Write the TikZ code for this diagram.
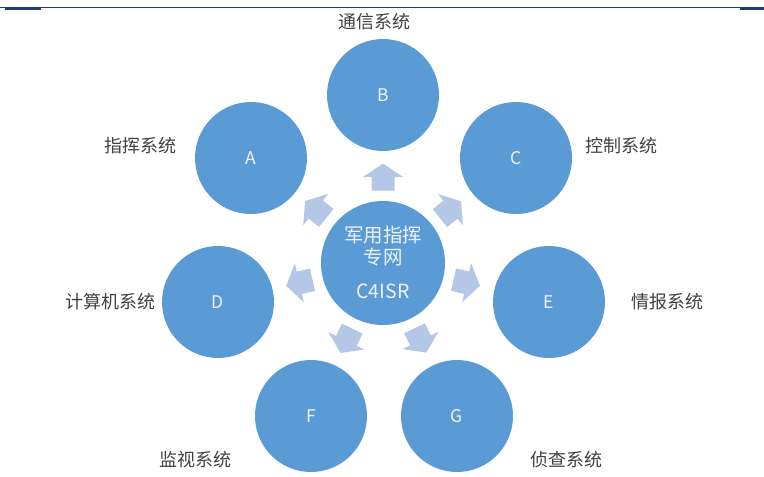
\documentclass[tikz,border=0pt]{standalone}
\usepackage{fontspec}
\setmainfont{Noto Sans CJK SC}
\usetikzlibrary{calc}
\definecolor{circ}{HTML}{5B9BD5}
\definecolor{arr}{HTML}{B4C7E7}
\definecolor{lbl}{HTML}{404040}
\definecolor{rule}{HTML}{1F3A78}
\definecolor{ltr}{HTML}{EEF3FA}
\tikzset{
  outer/.style={circle,fill=circ,minimum size=112pt,inner sep=0pt,text=ltr,font=\fontsize{17.5}{17.5}\selectfont},
  hub/.style={circle,fill=circ,minimum size=124pt,inner sep=0pt},
  lab/.style={text=lbl,font=\fontsize{18}{18}\selectfont,inner sep=0pt},
  hubtxt/.style={text=ltr,font=\fontsize{19.5}{19.5}\selectfont,inner sep=0pt},
  blockarrow/.pic={\fill[arr] (-13.5,-11.5) -- (0,-11.5) -- (0,-20) -- (13.5,0) -- (0,20) -- (0,11.5) -- (-13.5,11.5) -- cycle;}
}
\begin{document}
\begin{tikzpicture}[x=1pt,y=-1pt]
\useasboundingbox (0,0) rectangle (764,477);
% top rule
\coordinate (r0) at (0,7.5);
\coordinate (r1) at (764,7.5);
\draw[rule,line width=1pt] (r0) -- (r1);
\fill[rule] (5,7) rectangle (41,9.8);
\fill[rule] (740,7) rectangle (764,9.8);
% hub
\node[hub] (M) at (383,263) {};
\node[hubtxt] (m1) at (383,235) {军用指挥};
\node[hubtxt] (m2) at (383,257) {专网};
\node[hubtxt] (m3) at (383,291) {C4ISR};
% outer circles
\node[outer] (B) at (383,95) {B};
\node[outer] (A) at (251,158) {A};
\node[outer] (C) at (516,158) {C};
\node[outer] (D) at (218,302) {D};
\node[outer] (E) at (549,302) {E};
\node[outer] (F) at (311,416) {F};
\node[outer] (G) at (457,416) {G};
% labels
\node[lab] (lB) at (374,22) {通信系统};
\node[lab] (lA) at (140,146) {指挥系统};
\node[lab] (lC) at (621,146) {控制系统};
\node[lab] (lD) at (110,302) {计算机系统};
\node[lab] (lE) at (667,302) {情报系统};
\node[lab] (lF) at (195,460) {监视系统};
\node[lab] (lG) at (566,460) {侦查系统};
% arrows
\pic[rotate=90] at ($(M)!86pt!(B)$) {blockarrow};
\pic[rotate=141.43] at ($(M)!86pt!(A)$) {blockarrow};
\pic[rotate=38.57] at ($(M)!86pt!(C)$) {blockarrow};
\pic[rotate=192.86] at ($(M)!86pt!(D)$) {blockarrow};
\pic[rotate=-12.86] at ($(M)!86pt!(E)$) {blockarrow};
\pic[rotate=244.29] at ($(M)!86pt!(F)$) {blockarrow};
\pic[rotate=-64.29] at ($(M)!86pt!(G)$) {blockarrow};
\end{tikzpicture}
\end{document}
